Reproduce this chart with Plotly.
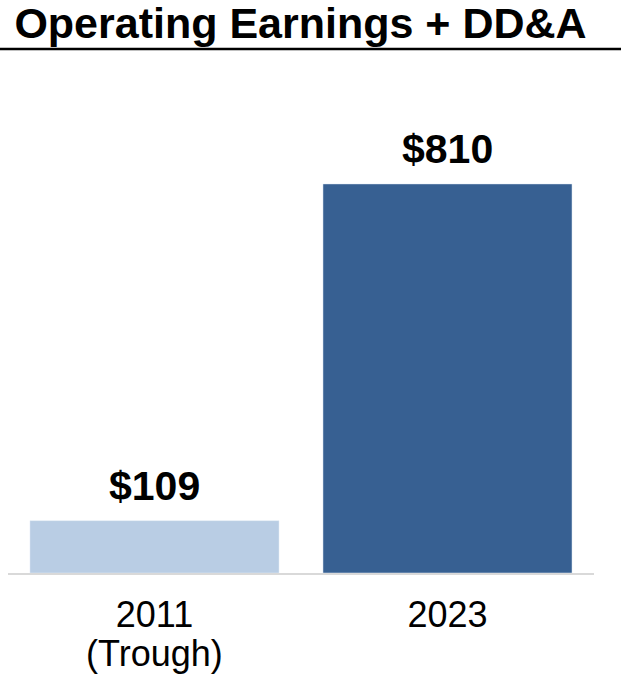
import plotly.graph_objects as go

# Data
categories = ["2011", "2023"]
category_notes = ["(Trough)", ""]
values = [109, 810]
bar_labels = ["$109", "$810"]
bar_colors = ["#b9cde4", "#376092"]

FONT = "Liberation Sans, Arial, sans-serif"

W, H = 621, 681
M_L, M_R, M_T, M_B = 8, 27, 60, 108
Y_MAX = 1068

fig = go.Figure()

fig.add_trace(go.Bar(
    x=categories,
    y=values,
    marker=dict(color=bar_colors),
    hoverinfo="skip",
))

# value labels above the bars
# (x as category index: a string like "2023" would be read as a number)
for i, (val, lab) in enumerate(zip(values, bar_labels)):
    fig.add_annotation(
        x=i, y=val, text=f"<b>{lab}</b>",
        showarrow=False, yanchor="bottom", yshift=10,
        font=dict(family=FONT, size=41, color="black"),
    )

# second line under the tick label, set tighter than plotly's <br> spacing
for i, note in enumerate(category_notes):
    if note:
        fig.add_annotation(
            x=i, y=0, yref="paper", text=note,
            showarrow=False, yanchor="top", yshift=-58,
            font=dict(family=FONT, size=36, color="black"),
        )

# rule under the title, across the full width
plot_w = W - M_L - M_R
plot_h = H - M_T - M_B
rule_y = 49
fig.add_shape(
    type="line", xref="paper", yref="paper",
    x0=-M_L / plot_w, x1=(W - M_L) / plot_w,
    y0=(H - M_B - rule_y) / plot_h, y1=(H - M_B - rule_y) / plot_h,
    line=dict(color="black", width=2.5),
)

fig.update_layout(
    width=W, height=H,
    margin=dict(l=M_L, r=M_R, t=M_T, b=M_B, autoexpand=False),
    title=dict(
        text="<b>Operating Earnings + DD&A</b>",
        font=dict(family=FONT, size=43, color="black"),
        x=300.5 / W, xanchor="center",
        y=0.989, yanchor="top",
    ),
    plot_bgcolor="white",
    paper_bgcolor="white",
    bargap=0.15,
    showlegend=False,
    xaxis=dict(
        type="category", automargin=False,
        showgrid=False, zeroline=False,
        showline=True, linecolor="#d9d9d9", linewidth=2,
        ticks="", ticklabelstandoff=9,
        tickfont=dict(family=FONT, size=36, color="black"),
    ),
    yaxis=dict(
        visible=False, range=[0, Y_MAX],
    ),
)

fig.write_html(
    "out.html",
    config={"displayModeBar": False},
    # drop the default page margin so the figure sits at the window corner
    post_script="document.body.style.margin = '0';",
)
